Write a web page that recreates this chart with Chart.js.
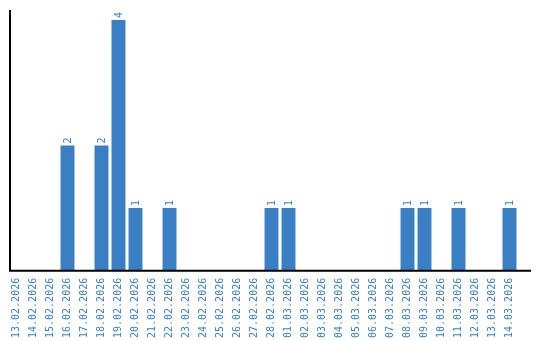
<!DOCTYPE html>
<html><head><meta charset="utf-8">
<script src="https://cdn.jsdelivr.net/npm/chart.js@4"></script>
<style>html,body{margin:0;padding:0;background:#fff}#wrap{width:540px;height:340px}</style>
</head><body><div id="wrap"><canvas id="c" width="540" height="340"></canvas></div>
<script>
const categories = ["13.02.2026","14.02.2026","15.02.2026","16.02.2026","17.02.2026","18.02.2026","19.02.2026","20.02.2026","21.02.2026","22.02.2026","23.02.2026","24.02.2026","25.02.2026","26.02.2026","27.02.2026","28.02.2026","01.03.2026","02.03.2026","03.03.2026","04.03.2026","05.03.2026","06.03.2026","07.03.2026","08.03.2026","09.03.2026","10.03.2026","11.03.2026","12.03.2026","13.03.2026","14.03.2026"];
const counts = [0,0,0,2,0,2,4,1,0,1,0,0,0,0,0,1,1,0,0,0,0,0,0,1,1,0,1,0,0,1];

const BLUE = '#3a7ec4';
const FONT = "'DejaVu Sans Mono', monospace";

const overlay = {
  id: 'overlay',
  afterDatasetsDraw(chart) {
    const ctx = chart.ctx, a = chart.chartArea;
    ctx.save();
    ctx.strokeStyle = '#000'; ctx.lineWidth = 2;
    ctx.beginPath();
    ctx.moveTo(10, a.top); ctx.lineTo(10, a.bottom);
    ctx.moveTo(9, a.bottom); ctx.lineTo(531, a.bottom);
    ctx.stroke();
    const meta = chart.getDatasetMeta(0);
    ctx.fillStyle = BLUE; ctx.font = '10px ' + FONT;
    ctx.textAlign = 'left'; ctx.textBaseline = 'middle';
    meta.data.forEach((el, i) => {
      const v = counts[i];
      if (!v) return;
      ctx.save();
      ctx.translate(el.x + 0.5, el.y - 2);
      ctx.rotate(-Math.PI / 2);
      ctx.fillText(String(v), 0, 0);
      ctx.restore();
    });
    ctx.restore();
  }
};

new Chart(document.getElementById('c'), {
  type: 'bar',
  data: { labels: categories, datasets: [{ data: counts, backgroundColor: BLUE, borderWidth: 0, barPercentage: 1, categoryPercentage: 0.82 }] },
  options: {
    responsive: false, animation: false,
    layout: { padding: { left: 8, right: 22, top: 10, bottom: -5 } },
    plugins: { legend: { display: false }, tooltip: { enabled: false } },
    scales: {
      x: {
        grid: { display: false, drawTicks: false }, border: { display: false },
        ticks: { color: BLUE, font: { family: FONT, size: 10 }, minRotation: 90, maxRotation: 90, padding: 7, autoSkip: false }
      },
      y: { display: false, min: 0, max: 4.16 }
    }
  },
  plugins: [overlay]
});
</script></body></html>
